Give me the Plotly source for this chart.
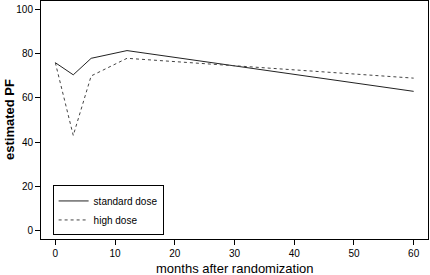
import plotly.graph_objects as go

months = [0, 3, 6, 12, 60]
standard_dose = [76, 70.5, 78, 81.5, 63]
high_dose = [76, 43, 70, 78, 69]

x_ticks = [0, 10, 20, 30, 40, 50, 60]
y_ticks = [0, 20, 40, 60, 80, 100]

fig = go.Figure()
fig.add_trace(go.Scatter(x=months, y=standard_dose, mode="lines", name="standard dose",
                         line=dict(color="#222222", width=1)))
fig.add_trace(go.Scatter(x=months, y=high_dose, mode="lines", name="high dose",
                         line=dict(color="#444444", width=1, dash="3px,3px")))

fig.update_layout(
    width=430, height=275,
    margin=dict(l=41, r=2, t=1, b=36, autoexpand=False),
    paper_bgcolor="white", plot_bgcolor="white",
    font=dict(family="Liberation Sans, Arial, sans-serif", color="black", size=10),
    showlegend=True,
    legend=dict(x=0.03, y=0.225, xanchor="left", yanchor="top",
                bgcolor="white", bordercolor="black", borderwidth=1,
                font=dict(size=10), tracegroupgap=0, itemwidth=30),
    xaxis=dict(range=[-2.4, 62.4], tickvals=x_ticks, ticks="outside", ticklen=5,
               tickcolor="black", showline=True, linecolor="black", linewidth=1,
               mirror=True, showgrid=False, zeroline=False, automargin=False),
    yaxis=dict(range=[-4, 104], tickvals=y_ticks, ticks="outside", ticklen=5,
               tickcolor="black", showline=True, linecolor="black", linewidth=1,
               mirror=True, showgrid=False, zeroline=False, automargin=False),
    annotations=[
        dict(text="months after randomization", xref="paper", yref="paper",
             x=0.5, y=-0.126, xanchor="center", yanchor="middle",
             showarrow=False, font=dict(size=13)),
        dict(text="<b>estimated PF</b>", xref="paper", yref="paper",
             x=0, xshift=-32, y=0.5, xanchor="center", yanchor="middle",
             textangle=-90, showarrow=False, font=dict(size=13)),
    ],
)

fig.write_html("out.html", config={"displayModeBar": False},
               post_script="document.body.style.margin='0';")
